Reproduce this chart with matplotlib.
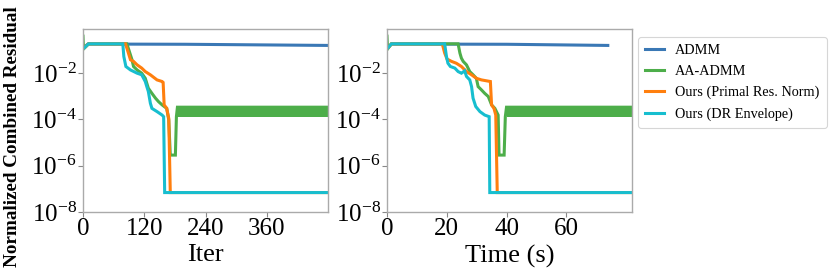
import numpy as np
import matplotlib
matplotlib.use("Agg")
import matplotlib.pyplot as plt
from matplotlib.ticker import FixedLocator, NullLocator

plt.rcParams['font.family'] = ['Liberation Serif', 'DejaVu Serif']
plt.rcParams['mathtext.fontset'] = 'stix'

# ---------------- data (log10 of normalized combined residual) ----------------
labels = ["ADMM", "AA-ADMM", "Ours (Primal Res. Norm)", "Ours (DR Envelope)"]
colors = ["#3a78b5", "#4dae4a", "#ff7f0e", "#17becf"]

# Iteration axis
admm_it = [0, 10, 200, 480]
admm_it_log = [-0.90, -0.74, -0.75, -0.80]

aa_it = [0, 1, 11, 86, 96, 99, 106, 115, 122, 128, 135, 142, 148, 155, 164, 168, 171, 181, 183, 185, 480]
aa_it_log = [-0.40, -0.95, -0.73, -0.73, -1.42, -1.71, -1.86, -2.00, -2.22, -2.65, -2.87, -3.08, -3.23,
             -3.37, -3.52, -4.02, -5.54, -5.54, -3.88, -3.47, -3.47]

prn_it = [0, 11, 83, 86, 93, 99, 106, 115, 122, 132, 145, 155, 157, 159, 164, 168, 171, 480]
prn_it_log = [-0.96, -0.73, -0.73, -0.92, -1.42, -1.49, -1.64, -1.78, -1.93, -2.07, -2.29, -2.36, -2.40,
              -3.37, -3.52, -3.95, -7.16, -7.16]

dr_it = [0, 11, 78, 80, 84, 93, 106, 115, 122, 125, 128, 132, 135, 145, 155, 158, 160, 480]
dr_it_log = [-0.96, -0.73, -0.73, -1.28, -1.71, -1.86, -2.00, -2.07, -2.36, -2.58, -2.79, -3.30, -3.52,
             -3.66, -3.81, -3.88, -7.16, -7.16]

# AA-ADMM oscillation band (iteration axis)
aa_band_it = [185, 480]
aa_band_lo = [-3.90, -3.90]
aa_band_hi = [-3.47, -3.47]

# Time axis (s)
admm_t = [0, 1.5, 40, 73.9]
admm_t_log = [-0.90, -0.74, -0.75, -0.80]

aa_t = [0, 0.2, 1.5, 23.8, 24.4, 24.9, 25.5, 26.6, 27.7, 28.8, 29.9, 30.5, 31.6, 32.7, 33.9, 35.0,
        36.1, 37.2, 37.5, 39.2, 39.6, 40.0, 82]
aa_t_log = [-0.40, -0.95, -0.73, -0.73, -1.13, -1.35, -1.49, -1.64, -1.93, -2.07, -2.22, -2.58, -2.72,
            -2.87, -3.01, -3.37, -3.52, -3.81, -5.54, -5.54, -3.88, -3.47, -3.47]

prn_t = [0, 1.5, 18.5, 19.3, 20.1, 21.6, 23.2, 24.9, 26.6, 28.3, 29.9, 31.6, 34.6, 35.0, 35.8, 36.4, 36.9, 82]
prn_t_log = [-0.96, -0.73, -0.73, -1.13, -1.39, -1.49, -1.57, -1.71, -1.93, -2.07, -2.22, -2.29, -2.36,
             -3.37, -3.52, -3.81, -7.16, -7.16]

dr_t = [0, 1.5, 19.3, 19.9, 20.4, 21.2, 22.7, 23.8, 24.9, 26.0, 26.6, 27.7, 28.3, 28.8, 29.7, 31.1,
        32.7, 34.2, 34.4, 82]
dr_t_log = [-0.96, -0.73, -0.73, -1.28, -1.57, -1.71, -1.78, -1.93, -2.00, -1.90, -2.14, -2.29, -2.58,
            -3.08, -3.44, -3.66, -3.81, -3.88, -7.16, -7.16]

aa_band_t = [40.0, 82]

# ---------------- figure ----------------
W, H = 831, 276
fig = plt.figure(figsize=(W / 100, H / 100), dpi=100)
ax1 = fig.add_axes([83 / W, (H - 212) / H, 245 / W, 183 / H])
ax2 = fig.add_axes([387 / W, (H - 212) / H, 245 / W, 183 / H])

lw = 2.2
series_it = [(admm_it, admm_it_log), (aa_it, aa_it_log), (prn_it, prn_it_log), (dr_it, dr_it_log)]
series_t = [(admm_t, admm_t_log), (aa_t, aa_t_log), (prn_t, prn_t_log), (dr_t, dr_t_log)]

def p(v):
    return 10.0 ** np.asarray(v, dtype=float)

handles = []
for (x, y), c, lab in zip(series_it, colors, labels):
    h, = ax1.plot(x, p(y), color=c, lw=lw, label=lab, solid_joinstyle='miter')
    handles.append(h)
ax1.fill_between(aa_band_it, p(aa_band_lo), p(aa_band_hi), color=colors[1], lw=0, zorder=2)

for (x, y), c in zip(series_t, colors):
    ax2.plot(x, p(y), color=c, lw=lw, solid_joinstyle='miter')
ax2.fill_between(aa_band_t, p(aa_band_lo), p(aa_band_hi), color=colors[1], lw=0, zorder=2)

for ax in (ax1, ax2):
    ax.set_yscale('log')
    ax.set_ylim(1e-8, 10 ** -0.09)
    ax.yaxis.set_major_locator(FixedLocator([1e-8, 1e-6, 1e-4, 1e-2]))
    ax.yaxis.set_minor_locator(NullLocator())
    ax.tick_params(labelsize=18, length=3.5, width=0.8, color='#888888', pad=1)
    for s in ax.spines.values():
        s.set_color('#aaaaaa')
        s.set_linewidth(1.0)

ax1.set_xlim(0, 480)
ax1.set_xticks([0, 120, 240, 360])
ax2.set_xlim(0, 82)
ax2.set_xticks([0, 20, 40, 60])

ax1.set_xlabel("Iter", fontsize=19, labelpad=3)
ax2.set_xlabel("Time (s)", fontsize=19, labelpad=3)
fig.text(4 / W, 0.5 + 1 / H, "Normalized Combined Residual", rotation=90, fontsize=13.8,
         fontweight='bold', ha='left', va='center')

leg = fig.legend(handles, labels, loc='upper left', bbox_to_anchor=(638 / W, 1 - 37 / H),
                 fontsize=10.3, handlelength=1.3, frameon=True, borderpad=0.5, borderaxespad=0,
                 labelspacing=0.55, handletextpad=0.8, fancybox=True)
leg.get_frame().set_edgecolor('#cccccc')
leg.get_frame().set_linewidth(0.8)

fig.savefig("out.png", dpi=100)
